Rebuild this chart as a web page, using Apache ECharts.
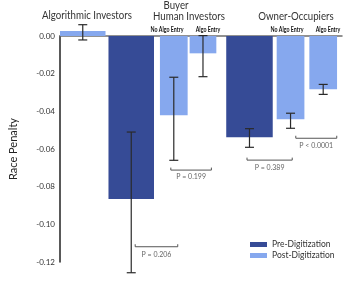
<!DOCTYPE html>
<html><head><meta charset="utf-8">
<script src="https://cdn.jsdelivr.net/npm/echarts@6/dist/echarts.min.js"></script>
<style>html,body{margin:0;padding:0;background:#fff}#c{width:356px;height:285px}</style>
</head><body><div id="c"></div>
<script>
// ---- data ----
var barNames = ['Algo Investors Post','Human No Algo Pre','Human No Algo Post','Human Algo Entry Post','Owner No Algo Pre','Owner No Algo Post','Owner Algo Entry Post'];
var barPeriod = ['post','pre','post','post','pre','post','post'];
var barValues = [0.0027, -0.0866, -0.0421, -0.0092, -0.0538, -0.0442, -0.0283];
var errLow = [-0.0021, -0.1257, -0.0660, -0.0216, -0.0591, -0.0490, -0.0310];
var errHigh = [0.0060, -0.0510, -0.0219, 0.0002, -0.0492, -0.0410, -0.0257];
var yTicks = [-0.12, -0.10, -0.08, -0.06, -0.04, -0.02, 0.00];
var pLabels = ['P = 0.206', 'P = 0.199', 'P = 0.389', 'P < 0.0001'];
var pBracketY = [-0.1119, -0.0712, -0.0659, -0.0543];
var pTextY = [-0.1163, -0.0749, -0.0701, -0.0584];
var legendNames = ['Pre-Digitization', 'Post-Digitization'];

// ---- layout (positions along the x-axis, in axis units) ----
var barCenter = [23, 72, 115, 144.5, 191.5, 233, 266];
var barWidth = [46, 46, 28, 27, 47, 28, 28];
var bracketSpan = [[76, 119], [112, 153], [189, 234.7], [238.3, 279.7]];

var DARK = '#364b96', LIGHT = '#86a8ee';
var FONT = 'Lato';

function mkBarData(period) {
  var d = [];
  for (var i = 0; i < barValues.length; i++) {
    if (barPeriod[i] === period) d.push([barCenter[i], barWidth[i], barValues[i]]);
  }
  return d;
}
function barRender(color) {
  return function (params, api) {
    var x = api.value(0), w = api.value(1), v = api.value(2);
    var p0 = api.coord([x - w / 2, 0]);
    var p1 = api.coord([x + w / 2, v]);
    return { type: 'rect', shape: { x: p0[0], y: Math.min(p0[1], p1[1]), width: p1[0] - p0[0], height: Math.abs(p1[1] - p0[1]) }, style: { fill: color } };
  };
}
var errData = barValues.map(function (v, i) { return [barCenter[i], errLow[i], errHigh[i]]; });
var bracketData = pLabels.map(function (t, i) { return [bracketSpan[i][0], bracketSpan[i][1], pBracketY[i], pTextY[i], t]; });

function header(txt, x, y) {
  return { type: 'text', x: x, y: y, scaleX: 0.92, style: { text: txt, fill: '#333', font: '10.5px ' + FONT, align: 'center', verticalAlign: 'middle' } };
}
function sub(txt, x) {
  return { type: 'text', x: x, y: 29.5, scaleX: 0.66, style: { text: txt, fill: '#111', font: 'bold 8px ' + FONT, align: 'center', verticalAlign: 'middle' } };
}

var chart = echarts.init(document.getElementById('c'));
chart.setOption({
  animation: false,
  grid: { left: 57, top: 36, width: 285, height: 226 },
  xAxis: { type: 'value', min: 0, max: 285, position: 'top', axisLine: { onZero: false, lineStyle: { color: '#6e6e6e', width: 1.5 } }, axisTick: { show: false }, axisLabel: { show: false }, splitLine: { show: false } },
  yAxis: {
    type: 'value', min: -0.12, max: 0, interval: 0.02,
    axisLine: { show: true, lineStyle: { color: '#222', width: 1.5 } },
    axisTick: { show: false }, splitLine: { show: false },
    axisLabel: { color: '#333', fontSize: 8, fontFamily: FONT, margin: 5, padding: [0, 0, 5, 0], formatter: function (v) { return v.toFixed(2); } },
    name: 'Race Penalty', nameLocation: 'middle', nameRotate: 90, nameGap: 41,
    nameTextStyle: { color: '#222', fontSize: 11, fontFamily: FONT }
  },
  legend: {
    data: legendNames, orient: 'vertical', left: 245, top: 235, itemWidth: 17, itemHeight: 5, itemGap: 2,
    icon: 'rect', textStyle: { color: '#333', fontSize: 8.5, fontFamily: FONT }
  },
  graphic: [
    header('Algorithmic Investors', 87, 16),
    header('Buyer', 176, 6),
    header('Human Investors', 189, 17),
    header('Owner-Occupiers', 296, 17),
    sub('No Algo Entry', 167), sub('Algo Entry', 208),
    sub('No Algo Entry', 287), sub('Algo Entry', 328)
  ],
  series: [
    { name: legendNames[0], type: 'custom', itemStyle: { color: DARK }, clip: false, renderItem: barRender(DARK), data: mkBarData('pre'), z: 2 },
    { name: legendNames[1], type: 'custom', itemStyle: { color: LIGHT }, clip: false, renderItem: barRender(LIGHT), data: mkBarData('post'), z: 2 },
    {
      type: 'custom', clip: false, z: 5, data: errData,
      renderItem: function (params, api) {
        var x = api.value(0);
        var a = api.coord([x, api.value(1)]), b = api.coord([x, api.value(2)]);
        var h = 4.5, st = { stroke: '#2a2a2a', lineWidth: 1.2 };
        return { type: 'group', children: [
          { type: 'line', shape: { x1: a[0], y1: a[1], x2: b[0], y2: b[1] }, style: st },
          { type: 'line', shape: { x1: a[0] - h, y1: a[1], x2: a[0] + h, y2: a[1] }, style: st },
          { type: 'line', shape: { x1: b[0] - h, y1: b[1], x2: b[0] + h, y2: b[1] }, style: st }
        ] };
      }
    },
    {
      type: 'custom', clip: false, z: 5, data: bracketData,
      renderItem: function (params, api) {
        var a = api.coord([api.value(0), api.value(2)]), b = api.coord([api.value(1), api.value(2)]);
        var t = api.coord([(api.value(0) + api.value(1)) / 2, api.value(3)]);
        return { type: 'group', children: [
          { type: 'polyline', shape: { points: [[a[0], a[1] - 2.5], [a[0], a[1]], [b[0], b[1]], [b[0], b[1] - 2.5]] }, style: { stroke: '#555', lineWidth: 1, fill: null } },
          { type: 'text', x: t[0], y: t[1], style: { text: pLabels[params.dataIndex], fill: '#666', font: '7px ' + FONT, align: 'center', verticalAlign: 'middle' } }
        ] };
      }
    }
  ]
});
</script></body></html>
